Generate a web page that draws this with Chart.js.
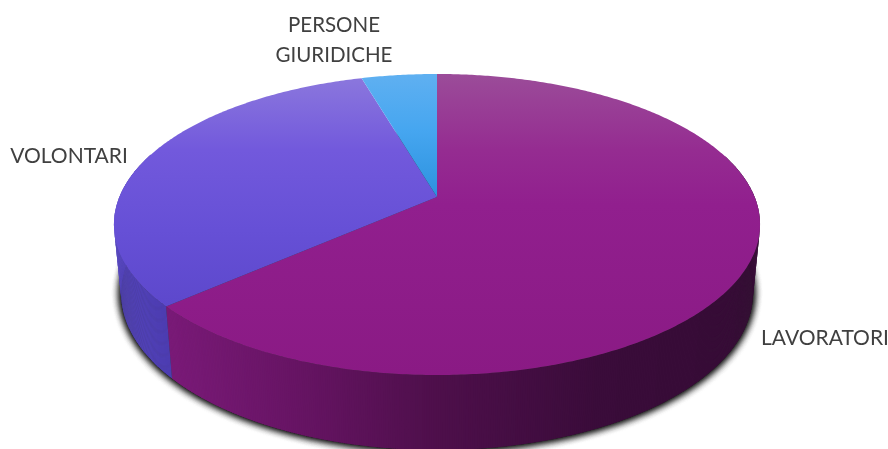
<!DOCTYPE html>
<html>
<head>
    <meta charset="utf-8">
    <title>Composizione</title>
    <style>
        html, body { margin: 0; padding: 0; background: #fff; overflow: hidden; }
        canvas { display: block; filter: blur(0.4px); }
    </style>
</head>
<body>
    <canvas id="chart" width="888" height="449"></canvas>
    <script src="https://cdn.jsdelivr.net/npm/chart.js@4"></script>
    <script>
        const categories = ['LAVORATORI', 'VOLONTARI', 'PERSONE GIURIDICHE'];
        const shares = [63.5, 32, 4.5];

        // top face colours, top to bottom of the picture
        const faceColors = [
            [[74, '#9b4c99'], [150, '#952c91'], [205, '#911f8e'], [375, '#8a1a84']],
            [[80, '#8a76dd'], [150, '#7259dc'], [230, '#6650d6'], [305, '#5d48cc']],
            [[74, '#5fb0f1'], [130, '#46a6f0'], [197, '#2c92df']]
        ];
        // side wall colours, left to right
        const wallColors = [
            [[165, [122, 26, 120]], [300, [102, 20, 99]], [437, [78, 15, 75]], [600, [58, 12, 58]], [760, [54, 12, 54]]],
            [[115, [84, 68, 186]], [172, [76, 60, 176]]],
            [[115, [50, 130, 200]], [172, [50, 130, 200]]]
        ];
        const labelSpots = [
            { lines: ['LAVORATORI'], x: 825, y: 338, size: 21 },
            { lines: ['VOLONTARI'], x: 69, y: 156, size: 21 },
            { lines: ['PERSONE', 'GIURIDICHE'], x: 334, y: 25, size: 20.5 }
        ];

        // perspective of the disc: a circle seen from the front, centre pushed up
        const TILT = 0.1827;
        const topDisc = { cx: 437, y0: 197, rx: 317.6, ry: 145.5 };
        const lowDisc = { cx: 437, y0: 264.3, rx: 310.6, ry: 151.8 };

        function project(d, a) {
            const w = 1 - TILT * Math.sin(a);
            return [d.cx + d.rx * Math.cos(a) / w, d.y0 + d.ry * Math.sin(a) / w];
        }

        function tracePath(ctx, d, a0, a1) {
            const steps = Math.max(2, Math.ceil((a1 - a0) / 0.01));
            for (let i = 0; i <= steps; i++) {
                const p = project(d, a0 + (a1 - a0) * i / steps);
                ctx.lineTo(p[0], p[1]);
            }
        }

        function wallColor(stops, x) {
            if (x <= stops[0][0]) return stops[0][1];
            for (let i = 1; i < stops.length; i++) {
                if (x <= stops[i][0]) {
                    const t = (x - stops[i - 1][0]) / (stops[i][0] - stops[i - 1][0]);
                    return stops[i - 1][1].map((c, k) => c + (stops[i][1][k] - c) * t);
                }
            }
            return stops[stops.length - 1][1];
        }

        const tiltedPie = {
            id: 'tiltedPie',
            beforeDatasetsDraw(chart) {
                const ctx = chart.ctx;
                const arcs = chart.getDatasetMeta(0).data;

                // soft shadow under the whole disc, twice to make it darker
                ctx.save();
                ctx.shadowColor = 'rgba(0,0,0,0.9)';
                ctx.shadowBlur = 8;
                ctx.fillStyle = '#333';
                for (let n = 0; n < 3; n++) {
                    ctx.beginPath();
                    tracePath(ctx, lowDisc, 0, Math.PI * 2);
                    ctx.closePath();
                    ctx.fill();
                }
                ctx.restore();

                // side wall, thin strips along the front edge
                arcs.forEach((arc, i) => {
                    const step = 0.006;
                    for (let a = arc.startAngle; a < arc.endAngle; a += step) {
                        const end = Math.min(a + step * 1.6, arc.endAngle);
                        if (Math.sin(a) < -0.3) continue;
                        const p0 = project(topDisc, a), p1 = project(topDisc, end);
                        const q0 = project(lowDisc, a), q1 = project(lowDisc, end);
                        const c = wallColor(wallColors[i], p0[0]);
                        ctx.fillStyle = `rgb(${c[0]},${c[1]},${c[2]})`;
                        ctx.beginPath();
                        ctx.moveTo(p0[0], p0[1]);
                        ctx.lineTo(p1[0], p1[1]);
                        ctx.lineTo(q1[0], q1[1]);
                        ctx.lineTo(q0[0], q0[1]);
                        ctx.closePath();
                        ctx.fill();
                    }
                });

                // top face
                arcs.forEach((arc, i) => {
                    const stops = faceColors[i];
                    const y0 = stops[0][0], y1 = stops[stops.length - 1][0];
                    const g = ctx.createLinearGradient(0, y0, 0, y1);
                    stops.forEach(s => g.addColorStop((s[0] - y0) / (y1 - y0), s[1]));
                    ctx.fillStyle = g;
                    ctx.beginPath();
                    ctx.moveTo(topDisc.cx, topDisc.y0);
                    tracePath(ctx, topDisc, arc.startAngle, arc.endAngle);
                    ctx.closePath();
                    ctx.fill();
                });

                // labels
                ctx.save();
                ctx.fillStyle = '#404040';
                ctx.textAlign = 'center';
                ctx.textBaseline = 'middle';
                labelSpots.forEach(s => {
                    ctx.font = s.size + 'px Lato';
                    s.lines.forEach((line, n) => ctx.fillText(line, s.x, s.y + n * 30));
                });
                ctx.restore();
                return false;
            }
        };

        new Chart(document.getElementById('chart'), {
            type: 'pie',
            data: {
                labels: categories,
                datasets: [{ data: shares, borderWidth: 0 }]
            },
            options: {
                responsive: false,
                animation: false,
                plugins: { legend: { display: false }, tooltip: { enabled: false } }
            },
            plugins: [tiltedPie]
        });
    </script>
</body>
</html>
